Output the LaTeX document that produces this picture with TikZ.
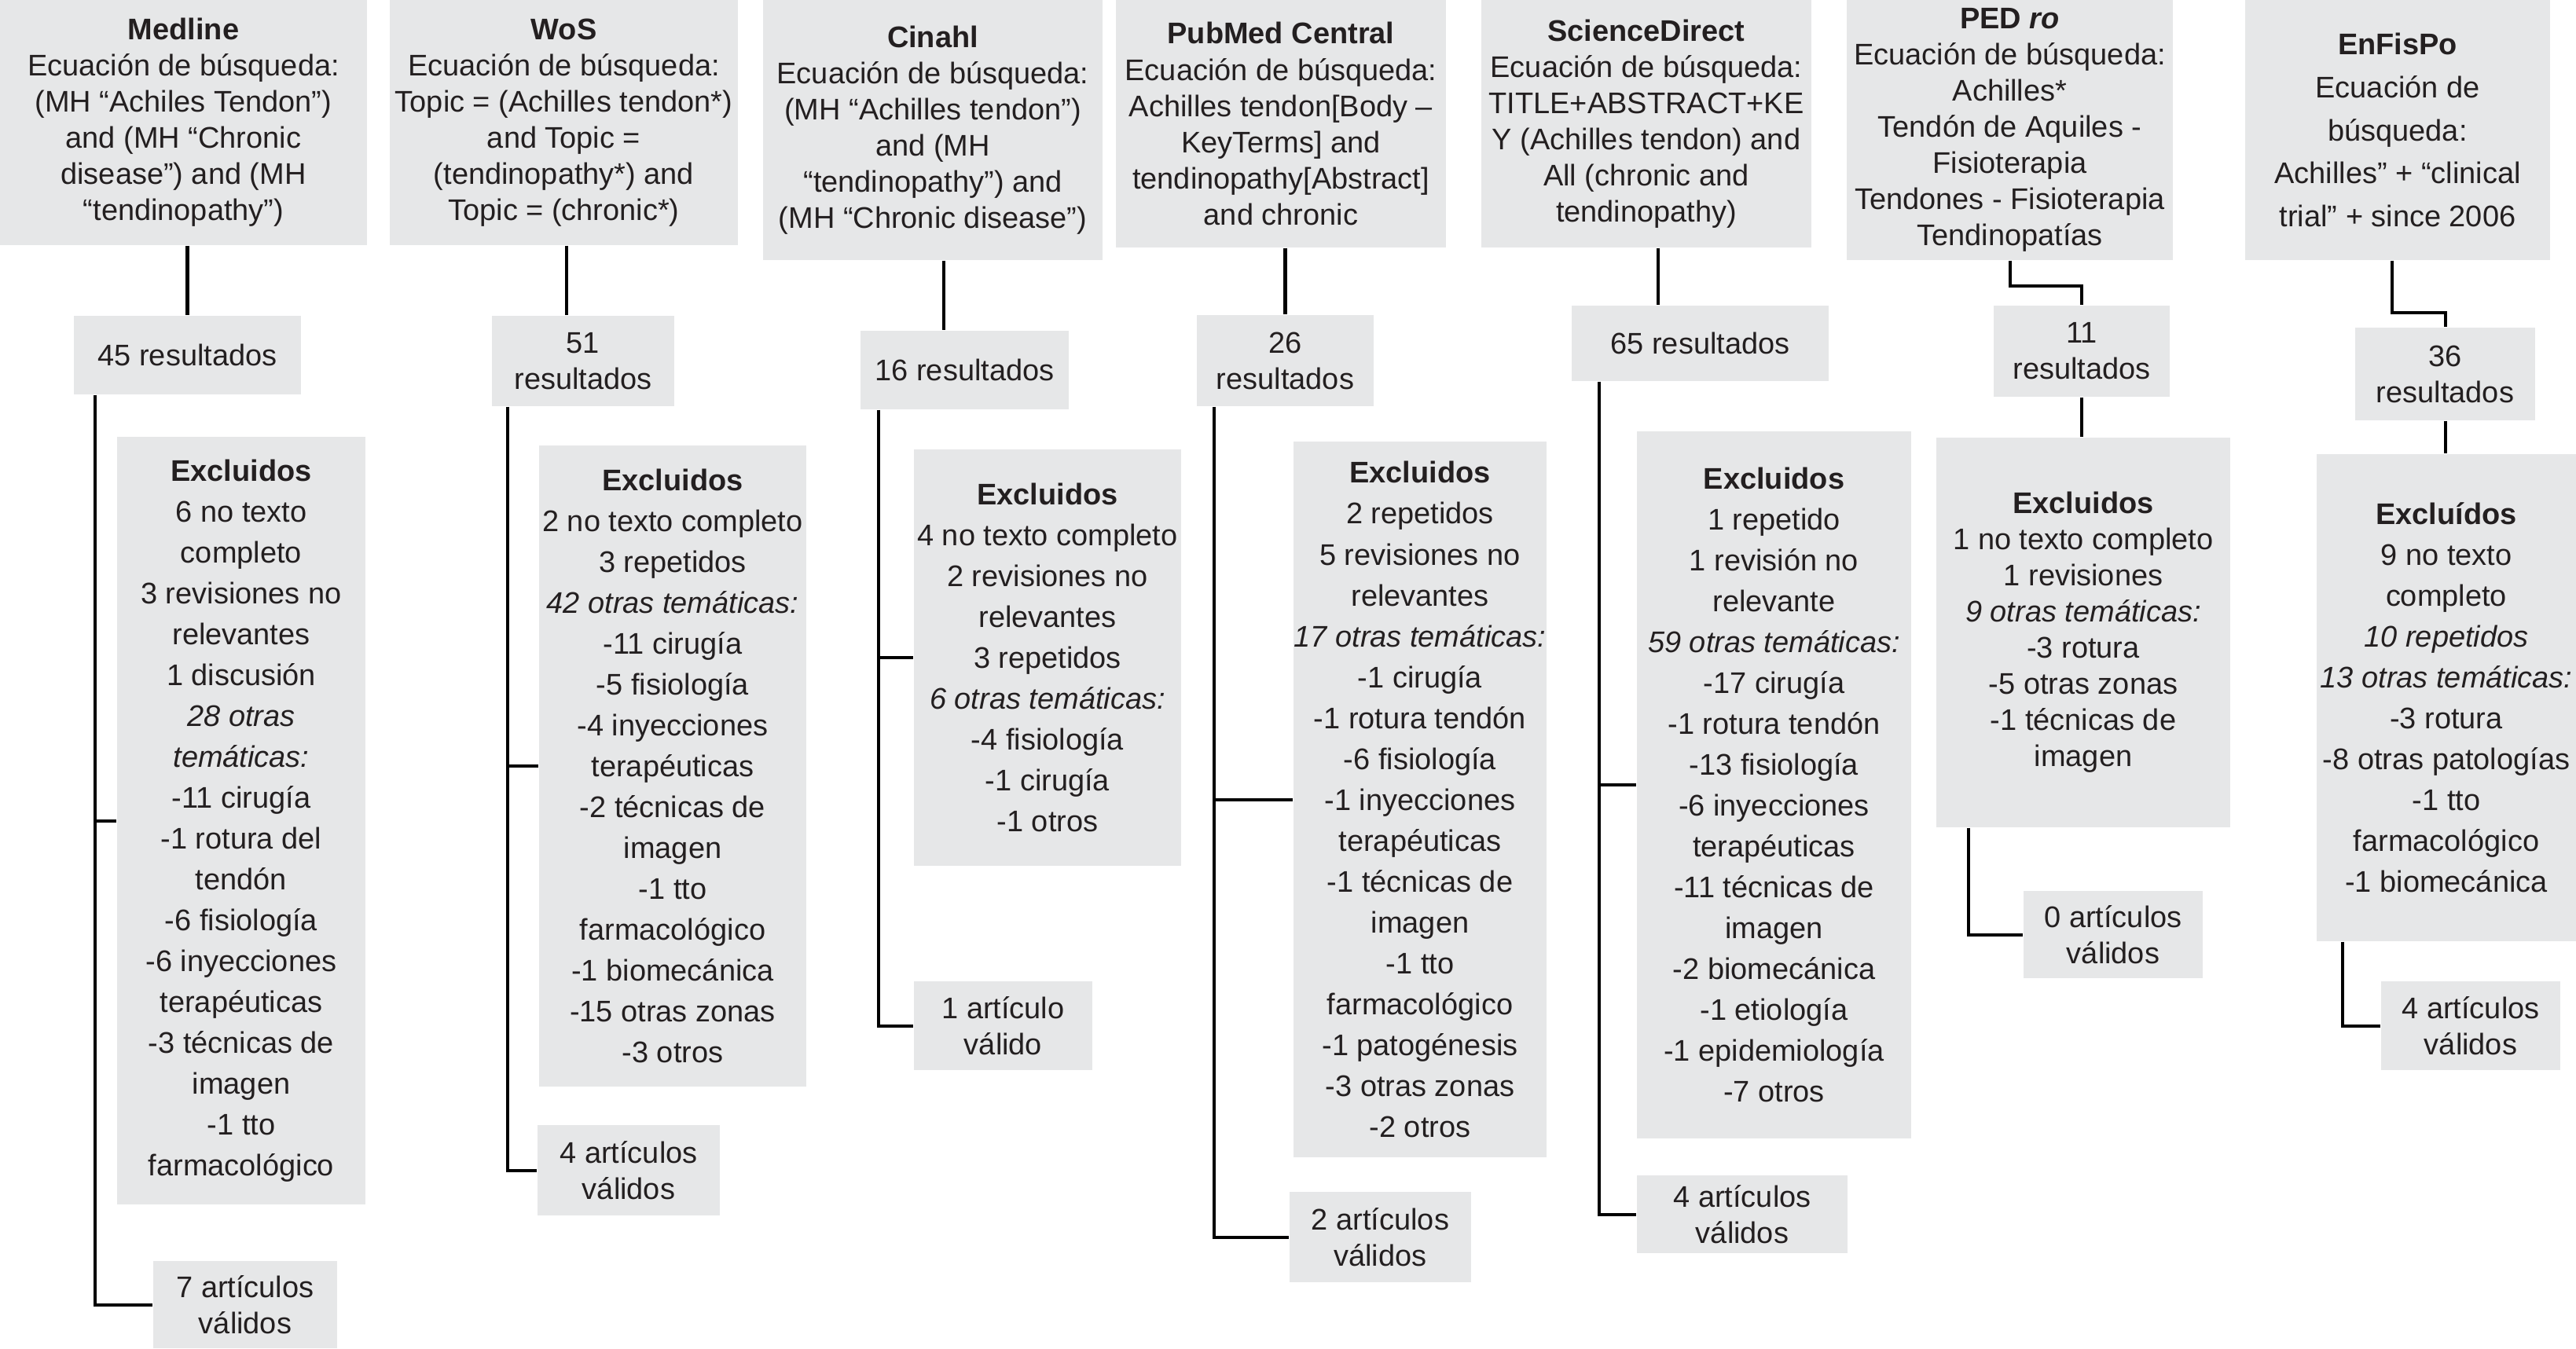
\documentclass[tikz,border=0pt]{standalone}
\usepackage{fontspec}
\setmainfont{Liberation Sans}
\definecolor{boxgray}{HTML}{E6E7E8}
\definecolor{txt}{HTML}{231F20}
\tikzset{
  box/.style={fill=boxgray, inner sep=0pt, align=center, text=txt, anchor=center},
  hdr/.style={box, font=\fontsize{10.8}{13.1}\selectfont},
  hdrw/.style={box, font=\fontsize{10.8}{15.6}\selectfont},
  res/.style={box, font=\fontsize{10.8}{13.1}\selectfont},
  exc/.style={box, font=\fontsize{10.8}{14.8}\selectfont},
  conn/.style={line width=1.15pt, draw=black}
}
\begin{document}
\begin{tikzpicture}
\useasboundingbox (0,0) rectangle (32.78,-17.16);
% ---------- Column 1: Medline ----------
\node[hdr, minimum width=4.67cm, minimum height=3.12cm] (h1) at (2.335,-1.56)
  {\textbf{Medline}\\Ecuación de búsqueda:\\(MH “Achiles Tendon”)\\and (MH “Chronic\\disease”) and (MH\\“tendinopathy”)};
\node[res, minimum width=2.89cm, minimum height=1.00cm] (r1) at (2.385,-4.52) {45 resultados};
\node[exc, minimum width=3.16cm, minimum height=9.77cm] (e1) at (3.07,-10.445)
  {\textbf{Excluidos}\\6 no texto\\completo\\3 revisiones no\\relevantes\\1 discusión\\\textit{28 otras}\\\textit{temáticas:}\\-11 cirugía\\-1 rotura del\\tendón\\-6 fisiología\\-6 inyecciones\\terapéuticas\\-3 técnicas de\\imagen\\-1 tto\\farmacológico};
\node[res, minimum width=2.34cm, minimum height=1.11cm] (v1) at (3.12,-16.605) {7 artículos\\válidos};
\draw[conn] (r1.north |- h1.south) -- (r1.north);
\coordinate (t1) at ([xshift=-1.175cm]r1.south);
\draw[conn] (t1) |- (v1.west);
\draw[conn] (t1 |- e1.west) -- (e1.west);
% ---------- Column 2: WoS ----------
\node[hdr, minimum width=4.43cm, minimum height=3.12cm] (h2) at (7.175,-1.56)
  {\textbf{WoS}\\Ecuación de búsqueda:\\Topic = (Achilles tendon*)\\and Topic =\\(tendinopathy*) and\\Topic = (chronic*)};
\node[res, minimum width=2.32cm, minimum height=1.15cm] (r2) at (7.42,-4.595) {51\\resultados};
\node[exc, minimum width=3.40cm, minimum height=8.16cm] (e2) at (8.56,-9.75)
  {\textbf{Excluidos}\\2 no texto completo\\3 repetidos\\\textit{42 otras temáticas:}\\-11 cirugía\\-5 fisiología\\-4 inyecciones\\terapéuticas\\-2 técnicas de\\imagen\\-1 tto\\farmacológico\\-1 biomecánica\\-15 otras zonas\\-3 otros};
\node[res, minimum width=2.32cm, minimum height=1.15cm] (v2) at (8.00,-14.895) {4 artículos\\válidos};
\draw[conn] ([xshift=0.035cm]h2.south) -- ([xshift=0.035cm]h2.south |- r2.north);
\coordinate (t2) at ([xshift=-0.96cm]r2.south);
\draw[conn] (t2) |- (v2.west);
\draw[conn] (t2 |- e2.west) -- (e2.west);
% ---------- Column 3: Cinahl ----------
\node[hdr, minimum width=4.32cm, minimum height=3.31cm] (h3) at (11.87,-1.655)
  {\textbf{Cinahl}\\Ecuación de búsqueda:\\(MH “Achilles tendon”)\\and (MH\\“tendinopathy”) and\\(MH “Chronic disease”)};
\node[res, minimum width=2.65cm, minimum height=1.00cm] (r3) at (12.275,-4.71) {16 resultados};
\node[exc, minimum width=3.40cm, minimum height=5.30cm] (e3) at (13.33,-8.37)
  {\textbf{Excluidos}\\4 no texto completo\\2 revisiones no\\relevantes\\3 repetidos\\\textit{6 otras temáticas:}\\-4 fisiología\\-1 cirugía\\-1 otros};
\node[res, minimum width=2.27cm, minimum height=1.13cm] (v3) at (12.765,-13.055) {1 artículo\\válido};
\draw[conn] ([xshift=0.14cm]h3.south) -- ([xshift=0.14cm]h3.south |- r3.north);
\coordinate (t3) at ([xshift=-1.095cm]r3.south);
\draw[conn] (t3) |- (v3.west);
\draw[conn] (t3 |- e3.west) -- (e3.west);
% ---------- Column 4: PubMed Central ----------
\node[hdr, minimum width=4.20cm, minimum height=3.15cm] (h4) at (16.30,-1.575)
  {\textbf{PubMed Central}\\Ecuación de búsqueda:\\Achilles tendon[Body –\\KeyTerms] and\\tendinopathy[Abstract]\\and chronic};
\node[res, minimum width=2.25cm, minimum height=1.16cm] (r4) at (16.355,-4.59) {26\\resultados};
\node[exc, minimum width=3.22cm, minimum height=9.11cm] (e4) at (18.07,-10.175)
  {\textbf{Excluidos}\\2 repetidos\\5 revisiones no\\relevantes\\\textit{17 otras temáticas:}\\-1 cirugía\\-1 rotura tendón\\-6 fisiología\\-1 inyecciones\\terapéuticas\\-1 técnicas de\\imagen\\-1 tto\\farmacológico\\-1 patogénesis\\-3 otras zonas\\-2 otros};
\node[res, minimum width=2.31cm, minimum height=1.15cm] (v4) at (17.565,-15.745) {2 artículos\\válidos};
\draw[conn] (r4.north |- h4.south) -- (r4.north);
\coordinate (t4) at ([xshift=-0.905cm]r4.south);
\draw[conn] (t4) |- (v4.west);
\draw[conn] (t4 |- e4.west) -- (e4.west);
% ---------- Column 5: ScienceDirect ----------
\node[hdr, minimum width=4.20cm, minimum height=3.15cm] (h5) at (20.95,-1.575)
  {\textbf{ScienceDirect}\\Ecuación de búsqueda:\\TITLE+ABSTRACT+KE\\Y (Achilles tendon) and\\All (chronic and\\tendinopathy)};
\node[res, minimum width=3.27cm, minimum height=0.96cm] (r5) at (21.635,-4.37) {65 resultados};
\node[exc, minimum width=3.49cm, minimum height=9.00cm] (e5) at (22.575,-9.99)
  {\textbf{Excluidos}\\1 repetido\\1 revisión no\\relevante\\\textit{59 otras temáticas:}\\-17 cirugía\\-1 rotura tendón\\-13 fisiología\\-6 inyecciones\\terapéuticas\\-11 técnicas de\\imagen\\-2 biomecánica\\-1 etiología\\-1 epidemiología\\-7 otros};
\node[res, minimum width=2.68cm, minimum height=0.99cm] (v5) at (22.17,-15.455) {4 artículos\\válidos};
\draw[conn] ([xshift=0.15cm]h5.south) -- ([xshift=0.15cm]h5.south |- r5.north);
\coordinate (t5) at ([xshift=-1.285cm]r5.south);
\draw[conn] (t5) |- (v5.west);
\draw[conn] (t5 |- e5.west) -- (e5.west);
% ---------- Column 6: PEDro ----------
\node[hdr, minimum width=4.15cm, minimum height=3.31cm] (h6) at (25.575,-1.655)
  {\textbf{PED \textit{ro}}\\Ecuación de búsqueda:\\Achilles*\\Tendón de Aquiles -\\Fisioterapia\\Tendones - Fisioterapia\\Tendinopatías};
\node[res, minimum width=2.24cm, minimum height=1.16cm] (r6) at (26.49,-4.47) {11\\resultados};
\node[res, minimum width=3.74cm, minimum height=4.96cm] (e6) at (26.51,-8.05)
  {\textbf{Excluidos}\\1 no texto completo\\1 revisiones\\\textit{9 otras temáticas:}\\-3 rotura\\-5 otras zonas\\-1 técnicas de\\imagen};
\node[res, minimum width=2.28cm, minimum height=1.11cm] (v6) at (26.89,-11.895) {0 artículos\\válidos};
\draw[conn] (h6.south) -- ++(0,-0.32) -| (r6.north);
\draw[conn] (r6.south) -- (r6.south |- e6.north);
\coordinate (t6) at ([xshift=-1.46cm]e6.south);
\draw[conn] (t6) |- (v6.west);
% ---------- Column 7: EnFisPo ----------
\node[hdrw, minimum width=3.88cm, minimum height=3.31cm] (h7) at (30.51,-1.655)
  {\textbf{EnFisPo}\\Ecuación de\\búsqueda:\\Achilles” + “clinical\\trial” + since 2006};
\node[res, minimum width=2.29cm, minimum height=1.18cm] (r7) at (31.115,-4.76) {36\\resultados};
\node[exc, minimum width=3.30cm, minimum height=6.20cm] (e7) at (31.13,-8.88)
  {\textbf{Excluídos}\\9 no texto\\completo\\\textit{10 repetidos}\\\textit{13 otras temáticas:}\\-3 rotura\\-8 otras patologías\\-1 tto\\farmacológico\\-1 biomecánica};
\node[res, minimum width=2.28cm, minimum height=1.13cm] (v7) at (31.44,-13.055) {4 artículos\\válidos};
\draw[conn] ([xshift=-0.07cm]h7.south) -- ++(0,-0.66) -| (r7.north);
\draw[conn] (r7.south) -- (r7.south |- e7.north);
\coordinate (t7) at ([xshift=-1.32cm]e7.south);
\draw[conn] (t7) |- (v7.west);
\end{tikzpicture}
\end{document}
